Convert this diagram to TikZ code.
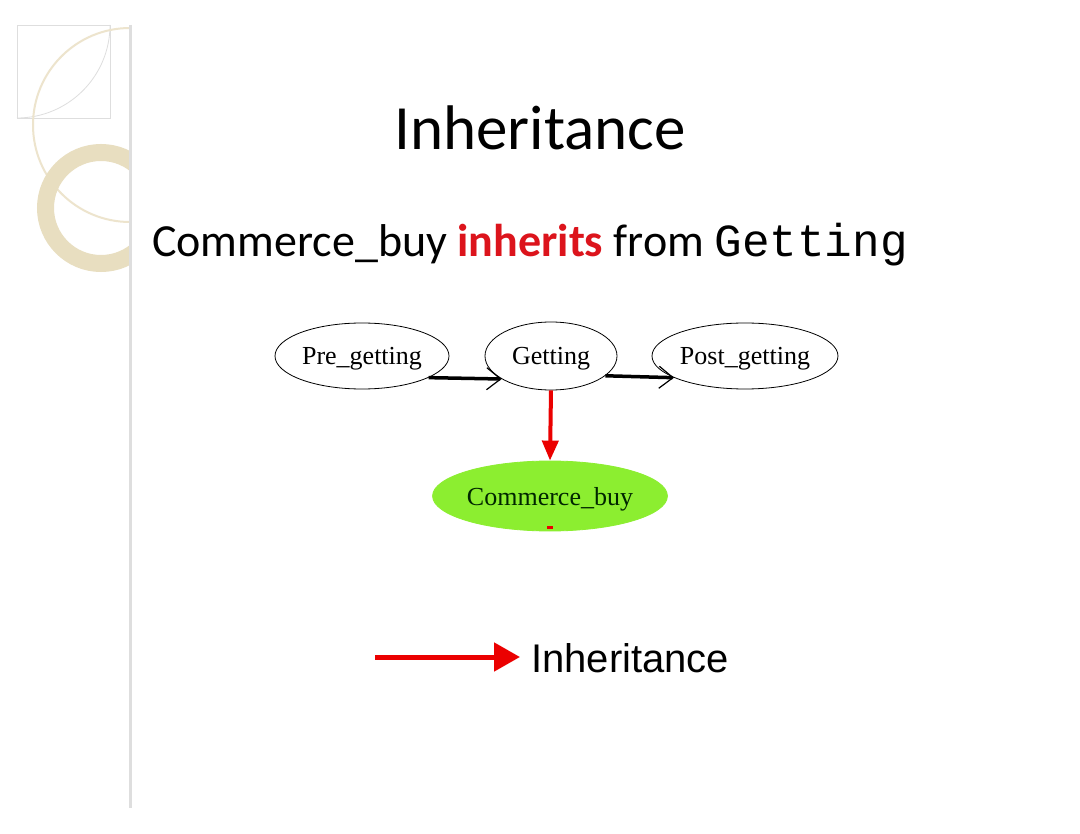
\documentclass[tikz,border=0pt]{standalone}
\usepackage{fontspec}
\setmainfont{Carlito}
\newfontfamily\codefont{Liberation Mono}
\newfontfamily\graphfont{Liberation Serif}
\newfontfamily\legendfont{Liberation Sans}
\usetikzlibrary{shapes.geometric,arrows.meta}
\definecolor{inhred}{RGB}{220,20,28}
\definecolor{arrowred}{RGB}{235,0,0}
\definecolor{buygreen}{RGB}{140,238,48}
\definecolor{decobeige}{RGB}{232,222,192}
\definecolor{decoline}{RGB}{222,222,222}
\tikzset{
  state/.style={ellipse,draw=black,line width=0.8pt,inner sep=0pt,text depth=0pt,
    font=\graphfont\fontsize{26}{30}\selectfont},
  flow/.style={line width=3.5pt,-{Straight Barb[length=14pt,width=22pt,line width=1.2pt]}},
  inherit/.style={draw=arrowred,line width=4pt,-{Triangle[length=20pt,width=16pt]}},
}

\begin{document}
\begin{tikzpicture}[x=1pt,y=-1pt]
    \useasboundingbox[fill=white] (0,0) rectangle (1080,834);

    % slide decoration on the left
    \begin{scope}
        \clip (0,0) rectangle (130,834);
        \draw[decoline,line width=0.8pt] (17,25) rectangle (110,118);
        \draw[decoline,line width=0.8pt] (110,25) arc[start angle=0,end angle=90,radius=93];
        \draw[decobeige!80,line width=2pt] (130,125) circle (97);
        \draw[decobeige,line width=17pt] (101,208) circle (55.5);
    \end{scope}
    \draw[decoline,line width=3pt] (130,25) -- (130,808);

    % title and statement
    \node[anchor=base,font=\fontsize{63}{70}\selectfont] (title) at (540,150) {Inheritance};
    \node[anchor=base west,inner sep=0pt,font=\fontsize{46}{50}\selectfont] (claim) at (152,257)
        {Commerce\_buy {\bfseries\color{inhred}inherits} from {\codefont Getting}};

    % frame graph
    \node[state,minimum width=174pt,minimum height=66pt] (pre) at (362,356) {Pre\_getting};
    \node[state,minimum width=132pt,minimum height=68pt] (get) at (551,356) {Getting};
    \node[state,minimum width=186pt,minimum height=66pt] (post) at (745,356) {Post\_getting};
    \node[state,draw=buygreen,fill=buygreen,text=black!85!green,minimum width=224pt,minimum height=70pt]
        (buy) at (550,496) {Commerce\_buy};

    \draw[flow] (pre.-18) -- (get.-155);
    \draw[flow] (get.-20) -- (post.-163);
    \draw[inherit] (get.south) -- (buy.north);
    \fill[arrowred] (547,526) rectangle (553,529);

    % legend
    \node[anchor=base west,inner sep=0pt,font=\legendfont\fontsize{40}{44}\selectfont] (legend) at (531,672) {Inheritance};
    \coordinate (legstart) at (375,657);
    \draw[draw=arrowred,line width=5pt,-{Triangle[length=26pt,width=28pt]}] (legstart) -- ([xshift=-11pt]legend.west |- legstart);
\end{tikzpicture}
\end{document}
